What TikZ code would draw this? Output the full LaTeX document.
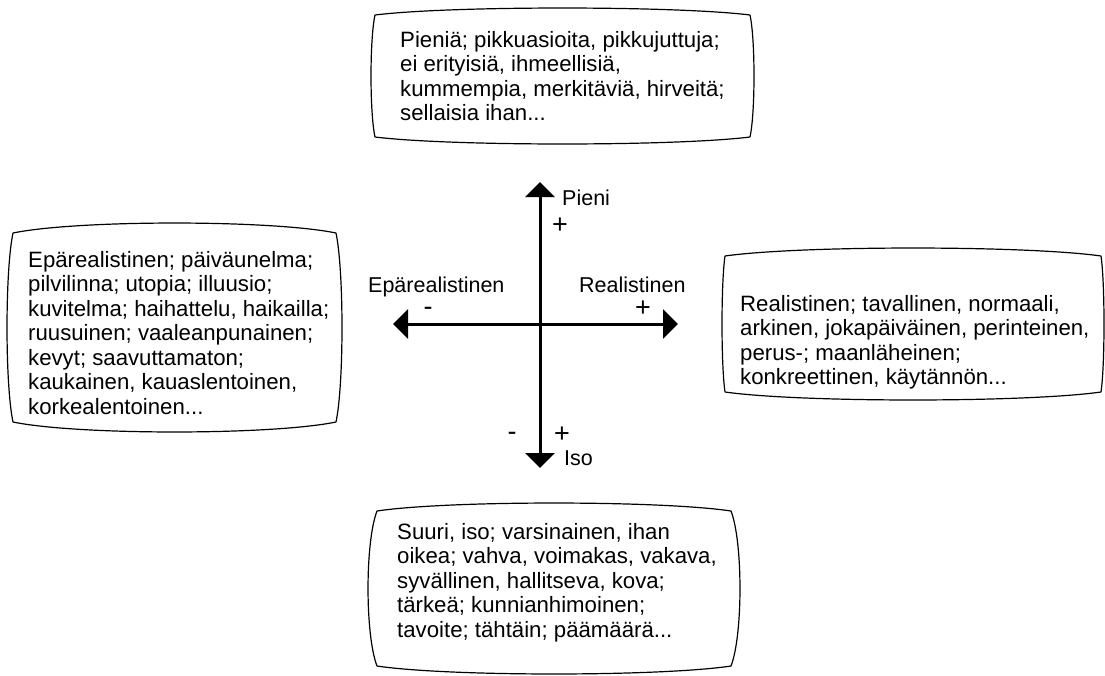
\documentclass[tikz,border=0pt]{standalone}
\usepackage{fontspec}
\setmainfont{Liberation Sans}
\usetikzlibrary{arrows.meta}
\newcommand\boxlines[1]{\vtop{\baselineskip=24.5pt\halign{##\hfil\cr #1\crcr}}}
% x1 y1 x2 y2 (image coords), top/bottom bulge, side bulge
\newcommand\tvframe[6]{%
  \draw[frame] (#1,#2)
    .. controls ({#1+0.2*(#3-#1)},{#2-1.33*#5}) and ({#3-0.2*(#3-#1)},{#2-1.33*#5}) .. (#3,#2)
    .. controls ({#3+1.33*#6},{#2+0.2*(#4-#2)}) and ({#3+1.33*#6},{#4-0.2*(#4-#2)}) .. (#3,#4)
    .. controls ({#3-0.2*(#3-#1)},{#4+1.33*#5}) and ({#1+0.2*(#3-#1)},{#4+1.33*#5}) .. (#1,#4)
    .. controls ({#1-1.33*#6},{#4-0.2*(#4-#2)}) and ({#1-1.33*#6},{#2+0.2*(#4-#2)}) .. cycle;}
\begin{document}
\begin{tikzpicture}[x=1pt,y=-1pt,
  frame/.style={draw=black,line width=1.2pt,line join=round},
  boxtext/.style={anchor=base west,inner sep=0pt,font=\fontsize{22.2}{24.5}\selectfont},
  axislabel/.style={anchor=base west,inner sep=0pt,font=\fontsize{21.5}{24}\selectfont},
  sign/.style={inner sep=0pt,font=\fontsize{27}{28}\selectfont},
  axis/.style={line width=3pt,{Triangle[width=29pt,length=15pt]}-{Triangle[width=29pt,length=15pt]}}]
\fill[white] (0,0) rectangle (1105,675);
\useasboundingbox (0,0) rectangle (1105,675);

% boxes
\tvframe{375}{15}{750}{137}{7}{4}
\node[boxtext] (toptext) at (400,47) {\boxlines{Pieniä; pikkuasioita, pikkujuttuja;\cr ei erityisiä, ihmeellisiä,\cr kummempia, merkitäviä, hirveitä;\cr sellaisia ihan...}};

\tvframe{13}{233}{336}{422}{10}{6}
\node[boxtext] (lefttext) at (28,267) {\boxlines{Epärealistinen; päiväunelma;\cr pilvilinna; utopia; illuusio;\cr kuvitelma; haihattelu, haikailla;\cr ruusuinen; vaaleanpunainen;\cr kevyt; saavuttamaton;\cr kaukainen, kauaslentoinen,\cr korkealentoinen...}};

\tvframe{725}{256}{1101}{392}{8}{3}
\node[boxtext] (righttext) at (740,311) {\boxlines{Realistinen; tavallinen, normaali,\cr arkinen, jokapäiväinen, perinteinen,\cr perus-; maanläheinen;\cr konkreettinen, käytännön...}};

\tvframe{377}{511}{731}{666}{8}{9}
\node[boxtext] (bottomtext) at (397,539) {\boxlines{Suuri, iso; varsinainen, ihan\cr oikea; vahva, voimakas, vakava,\cr syvällinen, hallitseva, kova;\cr tärkeä; kunnianhimoinen;\cr tavoite; tähtäin; päämäärä...}};

% axes
\coordinate (N) at (540,182);
\coordinate (S) at (540,468);
\coordinate (W) at (393,324);
\coordinate (E) at (678,324);
\draw[axis] (S) -- (N);
\draw[axis] (W) -- (E);

% axis labels
\node[axislabel] (pieni) at (562,205) {Pieni};
\node[sign] (ptop) at (560,226) {+};
\node[axislabel] (epa) at (368,292) {Epärealistinen};
\node[sign] (mleft) at (428,311) {-};
\node[axislabel] (real) at (579,292) {Realistinen};
\node[sign] (pright) at (643,309) {+};
\node[sign] (mbot) at (512,436) {-};
\node[sign] (pbot) at (562,435) {+};
\node[axislabel] (iso) at (564,465) {Iso};
\end{tikzpicture}
\end{document}
